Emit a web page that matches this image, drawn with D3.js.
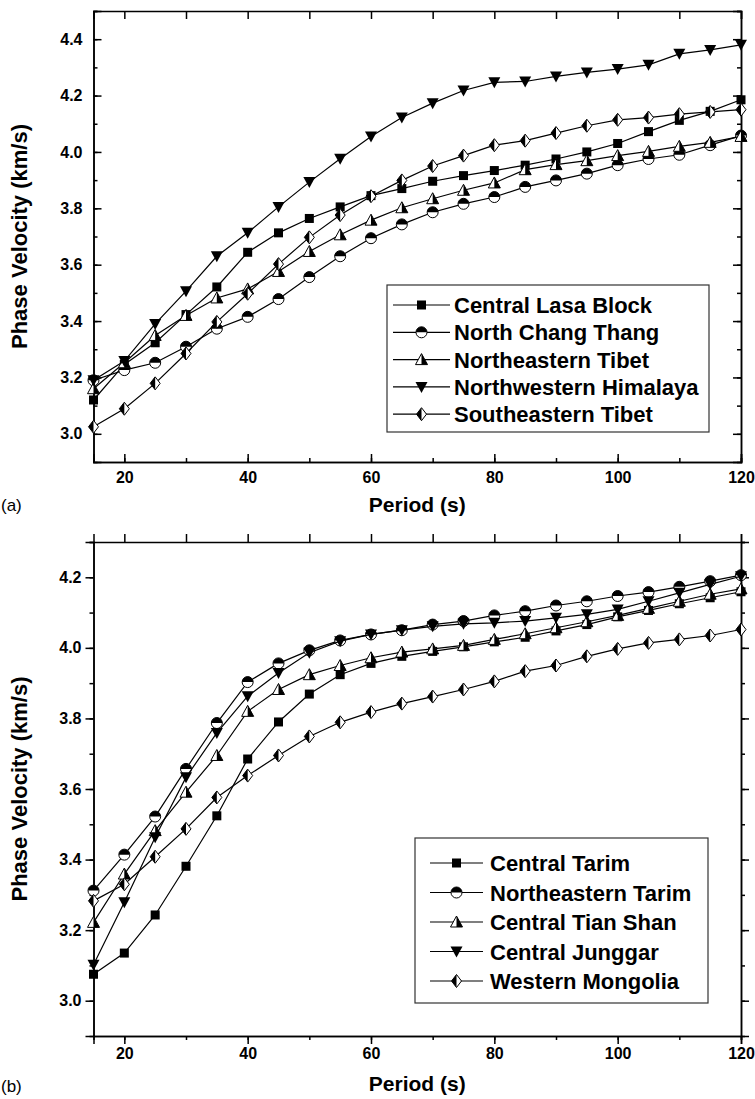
<html>

<head>
    <script src="https://d3js.org/d3.v7.min.js"></script>

    <style>
        body {
            margin: 0;
            background: #fff;
        }

        text {
            font-family: "Liberation Sans", Arial, sans-serif;
        }

        .axis path,
        .axis line {
            stroke: #000;
            stroke-width: 1.5;
        }

        .axis text {
            font-size: 16px;
            font-weight: bold;
            fill: #000;
        }
    </style>
</head>

<body>
    <svg id="chartArea" height="1099" width="755"></svg>
    <script>
        // x values (s)
        const periods = [15, 20, 25, 30, 35, 40, 45, 50, 55, 60, 65, 70, 75, 80, 85, 90, 95, 100, 105, 110, 115, 120];

        // panel (a)
        const centralLasa = [3.12, 3.246, 3.323, 3.423, 3.521, 3.644, 3.713, 3.764, 3.805, 3.845, 3.870, 3.896, 3.916, 3.934, 3.953, 3.975, 4.000, 4.030, 4.072, 4.112, 4.144, 4.185];
        const northChangThang = [3.19, 3.226, 3.252, 3.309, 3.373, 3.415, 3.478, 3.556, 3.630, 3.694, 3.743, 3.786, 3.816, 3.840, 3.876, 3.899, 3.923, 3.953, 3.975, 3.990, 4.024, 4.058];
        const northeasternTibet = [3.16, 3.252, 3.349, 3.420, 3.482, 3.514, 3.576, 3.647, 3.706, 3.758, 3.802, 3.834, 3.864, 3.890, 3.937, 3.955, 3.969, 3.987, 4.002, 4.020, 4.034, 4.055];
        const northwesternHimalaya = [3.19, 3.258, 3.390, 3.506, 3.630, 3.713, 3.805, 3.893, 3.976, 4.055, 4.122, 4.173, 4.218, 4.247, 4.250, 4.268, 4.282, 4.294, 4.309, 4.348, 4.362, 4.380];
        const southeasternTibet = [3.025, 3.089, 3.179, 3.285, 3.397, 3.497, 3.602, 3.697, 3.776, 3.843, 3.899, 3.950, 3.987, 4.024, 4.040, 4.067, 4.093, 4.114, 4.122, 4.134, 4.142, 4.150];

        // panel (b)
        const centralTarim = [3.075, 3.135, 3.243, 3.381, 3.524, 3.685, 3.790, 3.869, 3.924, 3.956, 3.976, 3.990, 4.003, 4.017, 4.030, 4.048, 4.066, 4.088, 4.106, 4.125, 4.142, 4.159];
        const northeasternTarim = [3.312, 3.414, 3.522, 3.657, 3.787, 3.903, 3.956, 3.993, 4.021, 4.038, 4.050, 4.066, 4.076, 4.092, 4.104, 4.120, 4.132, 4.147, 4.158, 4.173, 4.189, 4.206];
        const centralTianShan = [3.222, 3.359, 3.482, 3.591, 3.695, 3.820, 3.882, 3.924, 3.950, 3.972, 3.988, 3.997, 4.007, 4.024, 4.040, 4.057, 4.074, 4.092, 4.112, 4.132, 4.152, 4.167];
        const centralJunggar = [3.102, 3.279, 3.463, 3.633, 3.759, 3.863, 3.929, 3.986, 4.019, 4.038, 4.050, 4.061, 4.068, 4.071, 4.076, 4.085, 4.095, 4.109, 4.132, 4.156, 4.180, 4.203];
        const westernMongolia = [3.283, 3.330, 3.408, 3.487, 3.576, 3.638, 3.695, 3.749, 3.789, 3.818, 3.842, 3.862, 3.882, 3.905, 3.934, 3.950, 3.976, 3.997, 4.014, 4.024, 4.035, 4.052];

        // ticks
        const xTicks = [20, 40, 60, 80, 100, 120];
        const xMinorTicks = [20, 30, 40, 50, 60, 70, 80, 90, 100, 110, 120];
        const yTicksA = [3.0, 3.2, 3.4, 3.6, 3.8, 4.0, 4.2, 4.4];
        const yMinorTicksA = [3.0, 3.1, 3.2, 3.3, 3.4, 3.5, 3.6, 3.7, 3.8, 3.9, 4.0, 4.1, 4.2, 4.3, 4.4, 4.5];
        const yTicksB = [3.0, 3.2, 3.4, 3.6, 3.8, 4.0, 4.2];
        const yMinorTicksB = [3.0, 3.1, 3.2, 3.3, 3.4, 3.5, 3.6, 3.7, 3.8, 3.9, 4.0, 4.1, 4.2, 4.3];

        const seriesA = [
            { name: "Central Lasa Block", values: centralLasa, shape: "square" },
            { name: "North Chang Thang", values: northChangThang, shape: "halfCircle" },
            { name: "Northeastern Tibet", values: northeasternTibet, shape: "halfTriangle" },
            { name: "Northwestern Himalaya", values: northwesternHimalaya, shape: "downTriangle" },
            { name: "Southeastern Tibet", values: southeasternTibet, shape: "halfDiamond" }
        ];
        const seriesB = [
            { name: "Central Tarim", values: centralTarim, shape: "square" },
            { name: "Northeastern Tarim", values: northeasternTarim, shape: "halfCircle" },
            { name: "Central Tian Shan", values: centralTianShan, shape: "halfTriangle" },
            { name: "Central Junggar", values: centralJunggar, shape: "downTriangle" },
            { name: "Western Mongolia", values: westernMongolia, shape: "halfDiamond" }
        ];

        const svg = d3.select("#chartArea");
        const left = 93.5, right = 741;

        // draw one marker centred at (0,0) in group g
        function drawMarker(g, shape) {
            if (shape === "square") {
                g.append("rect").attr("x", -4.5).attr("y", -4.5).attr("width", 9).attr("height", 9)
                    .attr("fill", "#000");
            } else if (shape === "halfCircle") {
                g.append("circle").attr("r", 5.5).attr("fill", "#fff").attr("stroke", "#000").attr("stroke-width", 1);
                g.append("path").attr("d", "M-5.5,0 A5.5,5.5 0 0 1 5.5,0 Z").attr("fill", "#000");
            } else if (shape === "halfTriangle") {
                g.append("path").attr("d", "M0,-6 L6,5 L-6,5 Z").attr("fill", "#fff")
                    .attr("stroke", "#000").attr("stroke-width", 1);
                g.append("path").attr("d", "M0,-6 L6,5 L0,5 Z").attr("fill", "#000");
            } else if (shape === "downTriangle") {
                g.append("path").attr("d", "M-6,-5 L6,-5 L0,6 Z").attr("fill", "#000");
            } else if (shape === "halfDiamond") {
                g.append("path").attr("d", "M0,-6.5 L5,0 L0,6.5 L-5,0 Z").attr("fill", "#fff")
                    .attr("stroke", "#000").attr("stroke-width", 1);
                g.append("path").attr("d", "M0,-6.5 L0,6.5 L-5,0 Z").attr("fill", "#000");
            }
        }

        function drawPanel(opt) {
            const xScale = d3.scaleLinear().domain([15, 120]).range([left, right]);
            const yScale = d3.scaleLinear().domain(opt.yDomain).range([opt.bottom, opt.top]);
            const dir = opt.inward ? -1 : 1;

            // left axis: minor then major
            svg.append("g").attr("class", "axis")
                .attr("transform", `translate(${left},0)`)
                .call(d3.axisLeft(yScale).tickValues(opt.yMinor).tickFormat("").tickSizeOuter(0).tickSize(4 * dir));
            svg.append("g").attr("class", "axis")
                .attr("transform", `translate(${left},0)`)
                .call(d3.axisLeft(yScale).tickValues(opt.yMajor).tickFormat(d3.format(".1f")).tickSizeOuter(0)
                    .tickSize(8 * dir).tickPadding(opt.inward ? 11 : 4));
            // right axis
            svg.append("g").attr("class", "axis")
                .attr("transform", `translate(${right},0)`)
                .call(d3.axisRight(yScale).tickValues(opt.yMinor).tickFormat("").tickSizeOuter(0).tickSize(4 * dir));
            svg.append("g").attr("class", "axis")
                .attr("transform", `translate(${right},0)`)
                .call(d3.axisRight(yScale).tickValues(opt.yMajor).tickFormat("").tickSizeOuter(0).tickSize(8 * dir));
            // bottom axis
            svg.append("g").attr("class", "axis")
                .attr("transform", `translate(0,${opt.bottom})`)
                .call(d3.axisBottom(xScale).tickValues(xMinorTicks).tickFormat("").tickSizeOuter(0).tickSize(4 * dir));
            svg.append("g").attr("class", "axis")
                .attr("transform", `translate(0,${opt.bottom})`)
                .call(d3.axisBottom(xScale).tickValues(xTicks).tickSizeOuter(0).tickSize(8 * dir)
                    .tickPadding(opt.inward ? 10 : 4));
            // top axis
            svg.append("g").attr("class", "axis")
                .attr("transform", `translate(0,${opt.top})`)
                .call(d3.axisTop(xScale).tickValues(xMinorTicks).tickFormat("").tickSizeOuter(0).tickSize(8 * dir));

            // axis titles
            svg.append("text")
                .attr("transform", `translate(${opt.yTitleX},${(opt.top + opt.bottom) / 2}) rotate(-90)`)
                .attr("text-anchor", "middle")
                .style("font-size", "22px").style("font-weight", "bold")
                .text("Phase Velocity (km/s)");
            svg.append("text")
                .attr("x", (left + right) / 2).attr("y", opt.xTitleY)
                .attr("text-anchor", "middle")
                .style("font-size", "21px").style("font-weight", "bold")
                .text("Period (s)");
            svg.append("text")
                .attr("x", 1).attr("y", opt.tagY)
                .style("font-size", "17px")
                .text(opt.tag);

            // lines and markers
            const lineGenerator = d3.line()
                .x((d, i) => xScale(periods[i]))
                .y(d => yScale(d));

            const gTags = svg.selectAll(null)
                .data(opt.series)
                .join("g");

            gTags.append("path")
                .attr("d", d => lineGenerator(d.values))
                .attr("fill", "none")
                .attr("stroke", "#000")
                .attr("stroke-width", 1.2);

            gTags.each(function (s) {
                const g = d3.select(this);
                s.values.forEach((v, i) => {
                    const m = g.append("g").attr("transform", `translate(${xScale(periods[i])},${yScale(v)})`);
                    drawMarker(m, s.shape);
                });
            });

            // legend
            const lg = opt.legend;
            svg.append("rect")
                .attr("x", lg.x).attr("y", lg.y).attr("width", lg.w).attr("height", lg.h)
                .attr("fill", "#fff").attr("stroke", "#333").attr("stroke-width", 1.2);
            opt.series.forEach((s, i) => {
                const cy = lg.y + lg.first + i * lg.step;
                svg.append("line")
                    .attr("x1", lg.x + lg.lineL).attr("x2", lg.x + lg.lineR)
                    .attr("y1", cy).attr("y2", cy)
                    .attr("stroke", "#000").attr("stroke-width", 1.2);
                drawMarker(svg.append("g").attr("transform", `translate(${lg.x + (lg.lineL + lg.lineR) / 2},${cy})`), s.shape);
                svg.append("text")
                    .attr("x", lg.x + lg.textX).attr("y", cy + 8)
                    .style("font-size", "22px").style("font-weight", "bold")
                    .text(s.name);
            });
        }

        drawPanel({
            top: 11, bottom: 462, yDomain: [2.9, 4.5], inward: true,
            yMajor: yTicksA, yMinor: yMinorTicksA, series: seriesA,
            yTitleX: 27, xTitleY: 512, tag: "(a)", tagY: 511,
            legend: { x: 387, y: 285, w: 322, h: 147, first: 20, step: 27.3, lineL: 6, lineR: 63, textX: 67 }
        });

        drawPanel({
            top: 542, bottom: 1036, yDomain: [2.9, 4.3], inward: false,
            yMajor: yTicksB, yMinor: yMinorTicksB, series: seriesB,
            yTitleX: 27, xTitleY: 1091, tag: "(b)", tagY: 1092,
            legend: { x: 415, y: 838, w: 293, h: 165, first: 25, step: 29.5, lineL: 15, lineR: 68, textX: 75 }
        });
    </script>
</body>

</html>
